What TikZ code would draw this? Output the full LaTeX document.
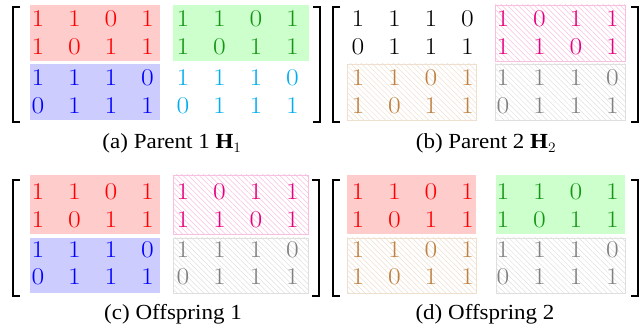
\documentclass[tikz,border=0pt]{standalone}
\usepackage{fontspec}
\usepackage{graphicx}
\usetikzlibrary{patterns.meta}
\newfontfamily\capfont{Liberation Serif}

\definecolor{grntxt}{RGB}{20,150,20}
\definecolor{cyntxt}{RGB}{0,174,239}
\definecolor{magtxt}{RGB}{230,0,126}
\definecolor{brntxt}{RGB}{191,128,64}
\definecolor{grytxt}{RGB}{128,128,128}

\tikzset{
  digit/.style={inner sep=0pt, text=#1,
    font=\fontsize{24}{24}\selectfont},
  capstyle/.style={anchor=base, inner sep=0pt,
    font=\capfont\fontsize{21.5}{26}\selectfont},
  solidbox/.style={fill=#1, draw=none},
  hatchbox/.style={draw=#1, line width=0.7pt,
    pattern={Lines[angle=-45,distance=3.8pt,line width=0.5pt]},
    pattern color=#1},
  bracket/.style={line width=1.2pt, line cap=butt},
}

% one row of four digits: name, first x, y, colour, digits
\newcommand\digitrow[5]{%
  \foreach \d [count=\i] in {#5} {
    \node[digit=#4] (#1-\i) at ({#2+36.5*(\i-1)},#3) {\scalebox{1.15}[1]{\d}};
  }%
}
% square brackets around a matrix: left x, right x, top y, bottom y
\newcommand\brackets[4]{%
  \draw[bracket] ({#1+7},#3) -- (#1,#3) -- (#1,#4) -- ({#1+7},#4);
  \draw[bracket] ({#2-7},#3) -- (#2,#3) -- (#2,#4) -- ({#2-7},#4);
}

\begin{document}
\begin{tikzpicture}[x=1pt,y=-1pt]
\useasboundingbox (0,0) rectangle (640,331);

% ---------- (a) Parent 1 ----------
\fill[solidbox=red!20]   (30,5)   rectangle (160,61);
\fill[solidbox=blue!20]  (30,64)  rectangle (160,120);
\fill[solidbox=green!20] (173,5)  rectangle (309,61);
\brackets{13}{320}{7}{122}
\digitrow{a1}{38}{19}{red}{1,1,0,1}
\digitrow{a2}{38}{47}{red}{1,0,1,1}
\digitrow{a3}{38}{78}{blue}{1,1,1,0}
\digitrow{a4}{38}{106}{blue}{0,1,1,1}
\digitrow{a5}{183}{19}{grntxt}{1,1,0,1}
\digitrow{a6}{183}{47}{grntxt}{1,0,1,1}
\digitrow{a7}{183}{78}{cyntxt}{1,1,1,0}
\digitrow{a8}{183}{106}{cyntxt}{0,1,1,1}
\node[capstyle] (capa) at (172,149)
  {\scalebox{1.07}[1]{(a) Parent 1 \textbf{H}$_1$}};

% ---------- (b) Parent 2 ----------
\path[hatchbox=brntxt!25] (347,64) rectangle (476,120);
\path[hatchbox=magtxt!25] (495,5)  rectangle (625,61);
\path[hatchbox=grytxt!25] (495,64) rectangle (625,120);
\brackets{333}{638}{7}{122}
\digitrow{b1}{358}{19}{black}{1,1,1,0}
\digitrow{b2}{358}{47}{black}{0,1,1,1}
\digitrow{b3}{358}{78}{brntxt}{1,1,0,1}
\digitrow{b4}{358}{106}{brntxt}{1,0,1,1}
\digitrow{b5}{503}{19}{magtxt}{1,0,1,1}
\digitrow{b6}{503}{47}{magtxt}{1,1,0,1}
\digitrow{b7}{503}{78}{grytxt}{1,1,1,0}
\digitrow{b8}{503}{106}{grytxt}{0,1,1,1}
\node[capstyle] (capb) at (486,149)
  {\scalebox{1.07}[1]{(b) Parent 2 \textbf{H}$_2$}};

% ---------- (c) Offspring 1 ----------
\fill[solidbox=red!20]  (30,175) rectangle (160,234);
\fill[solidbox=blue!20] (30,238) rectangle (160,293);
\path[hatchbox=magtxt!25] (173,175) rectangle (308,234);
\path[hatchbox=grytxt!25] (173,238) rectangle (308,293);
\brackets{13}{319}{180}{296}
\digitrow{c1}{38}{192}{red}{1,1,0,1}
\digitrow{c2}{38}{220}{red}{1,0,1,1}
\digitrow{c3}{38}{250}{blue}{1,1,1,0}
\digitrow{c4}{38}{277}{blue}{0,1,1,1}
\digitrow{c5}{183}{192}{magtxt}{1,0,1,1}
\digitrow{c6}{183}{220}{magtxt}{1,1,0,1}
\digitrow{c7}{183}{250}{grytxt}{1,1,1,0}
\digitrow{c8}{183}{277}{grytxt}{0,1,1,1}
\node[capstyle] (capc) at (173,319)
  {\scalebox{1.07}[1]{(c) Offspring 1}};

% ---------- (d) Offspring 2 ----------
\fill[solidbox=red!20]   (347,175) rectangle (476,234);
\path[hatchbox=brntxt!25] (347,238) rectangle (476,293);
\fill[solidbox=green!20] (496,175) rectangle (625,234);
\path[hatchbox=grytxt!25] (496,238) rectangle (625,293);
\brackets{333}{638}{180}{296}
\digitrow{d1}{358}{192}{red}{1,1,0,1}
\digitrow{d2}{358}{220}{red}{1,0,1,1}
\digitrow{d3}{358}{250}{brntxt}{1,1,0,1}
\digitrow{d4}{358}{277}{brntxt}{1,0,1,1}
\digitrow{d5}{503}{192}{grntxt}{1,1,0,1}
\digitrow{d6}{503}{220}{grntxt}{1,0,1,1}
\digitrow{d7}{503}{250}{grytxt}{1,1,1,0}
\digitrow{d8}{503}{277}{grytxt}{0,1,1,1}
\node[capstyle] (capd) at (485,319)
  {\scalebox{1.07}[1]{(d) Offspring 2}};
\end{tikzpicture}
\end{document}
